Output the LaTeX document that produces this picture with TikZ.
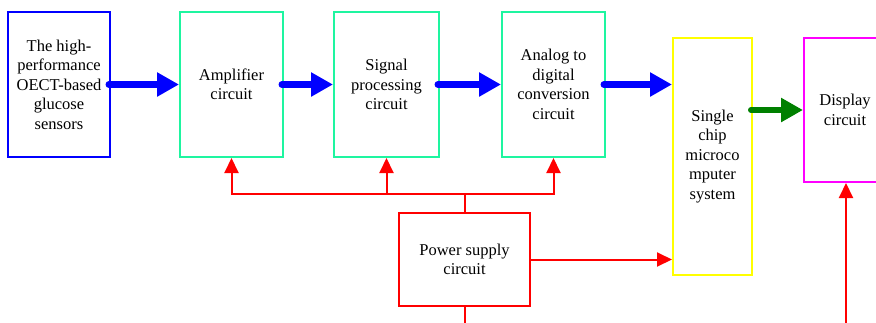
\documentclass[tikz,border=0pt]{standalone}
\usepackage{fontspec}
\setmainfont{Liberation Serif}
\usetikzlibrary{arrows.meta}
\definecolor{cgreen}{RGB}{30,245,160}
\definecolor{dgreen}{RGB}{0,128,0}
\definecolor{mag}{RGB}{255,0,255}
\definecolor{yel}{RGB}{255,255,0}
\definecolor{rd}{RGB}{255,0,0}
\definecolor{bl}{RGB}{0,0,255}
\begin{document}
\begin{tikzpicture}[x=1pt,y=-1pt,
  box/.style={draw,line width=2pt,align=center,inner sep=0pt,
    font=\fontsize{16.5}{19.5}\selectfont},
  bigarrow/.style={line width=7pt,line cap=round,-{Triangle[length=22pt,width=23pt]}},
  redline/.style={draw=rd,line width=2pt},
  redarrow/.style={redline,-{Triangle[length=15pt,width=14pt]}}]
\useasboundingbox (0,0) rectangle (876,322);
\clip (0,0) rectangle (876,322);
\node[box,draw=bl,minimum width=102pt,minimum height=145pt] (sen) at (59,84.5) {The high-\\performance\\OECT-based\\glucose\\sensors};
\node[box,draw=cgreen,minimum width=103pt,minimum height=145pt] (amp) at (231.5,84.5) {Amplifier\\circuit};
\node[box,draw=cgreen,minimum width=105pt,minimum height=145pt] (sig) at (386.5,84.5) {Signal\\processing\\circuit};
\node[box,draw=cgreen,minimum width=103pt,minimum height=145pt] (adc) at (553.5,84.5) {Analog to\\digital\\conversion\\circuit};
\node[box,draw=yel,minimum width=79pt,minimum height=237pt] (mcu) at (712.5,156.5) {Single\\chip\\microco\\mputer\\system};
\node[box,draw=mag,minimum width=82pt,minimum height=144pt] (disp) at (845,110) {Display\\circuit};
\node[box,draw=rd,minimum width=131pt,minimum height=93pt] (pwr) at (464.5,259.5) {Power supply\\circuit};
% blue signal arrows
\draw[bigarrow,draw=bl] ([xshift=-2pt]sen.east) -- (amp.west);
\draw[bigarrow,draw=bl] ([xshift=-2pt]amp.east) -- (sig.west);
\draw[bigarrow,draw=bl] ([xshift=-2pt]sig.east) -- (adc.west);
\draw[bigarrow,draw=bl] ([xshift=-2pt]adc.east) -- (adc.east -| mcu.west);
\draw[bigarrow,draw=dgreen,line width=6pt] ([xshift=-2pt]mcu.east |- disp.west) -- (disp.west);
% power bus
\coordinate (bus) at (464.5,194);
\draw[redline] (pwr.north) -- (bus);
\draw[redarrow] (bus) -| (amp.south);
\draw[redarrow] (bus) -| (adc.south);
\draw[redarrow] (sig.south |- bus) -- (sig.south);
\draw[redarrow] (pwr.east) -- (pwr.east -| mcu.west);
\coordinate (pb) at (464.5,330);
\draw[redline] (pwr.south) -- (pb);
\coordinate (db) at (846,330);
\draw[redarrow] (db) -- (disp.south -| db);
\end{tikzpicture}
\end{document}
